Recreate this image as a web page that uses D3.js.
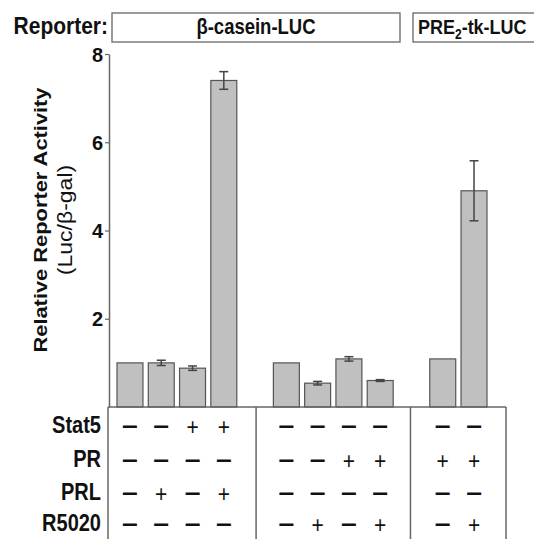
<!DOCTYPE html>
<html>
<head>
<meta charset="utf-8">
<script src="https://cdn.jsdelivr.net/npm/d3@7"></script>
<style>
  body { margin: 0; background: #fff; }
  text { font-family: "Liberation Sans", Arial, sans-serif; fill: #111; }
</style>
</head>
<body>
<div id="chart"></div>
<script>
// conditions (one per bar), grouped by reporter/experiment block
const groups = [0, 0, 0, 0, 1, 1, 1, 1, 2, 2];
const values = [1.0, 1.0, 0.88, 7.4, 1.0, 0.54, 1.09, 0.6, 1.09, 4.9];
const errors = [0, 0.06, 0.05, 0.2, 0, 0.04, 0.05, 0.02, 0, 0.68];
const yTicks = [2, 4, 6, 8];

// treatment table rows
const rowLabels = ["Stat5", "PR", "PRL", "R5020"];
const stat5 = ["-", "-", "+", "+", "-", "-", "-", "-", "-", "-"];
const pr    = ["-", "-", "-", "-", "-", "-", "+", "+", "+", "+"];
const prl   = ["-", "+", "-", "+", "-", "-", "-", "-", "-", "-"];
const r5020 = ["-", "-", "-", "-", "-", "+", "-", "+", "-", "+"];
const rows = [stat5, pr, prl, r5020];

const reporters = ["β-casein-LUC", "PRE2-tk-LUC"];

const W = 534, H = 539;
const lineCol = "#666";
const stretch = 1.15; // the source figure is a bit taller than wide

const svg = d3.select("#chart").append("svg")
    .attr("width", W)
    .attr("height", H);

// place a text element at (x,y) with the vertical stretch of the source
function label(x, y, rot, sx) {
    return svg.append("text")
        .attr("transform", "translate(" + x + "," + y + ") scale(" + (sx || 1) + "," + stretch + ")" + (rot ? " rotate(" + rot + ")" : ""));
}

// slot index = bar index + number of group gaps before it
const slots = values.map((v, i) => i + groups[i]);

const x = d3.scaleBand()
    .domain(d3.range(12))
    .range([117, 487])
    .paddingInner(0.17)
    .paddingOuter(0);

const y = d3.scaleLinear()
    .domain([0, 8])
    .range([407, 54]);

// y axis
const yAxis = svg.append("g")
    .attr("transform", "translate(109,0)")
    .call(d3.axisLeft(y).tickValues(yTicks).tickSize(4).tickSizeOuter(0).tickFormat(d3.format("d")));
yAxis.select(".domain").attr("stroke", lineCol).attr("stroke-width", 1.5);
yAxis.selectAll(".tick line").attr("stroke", lineCol).attr("stroke-width", 1.2);
yAxis.selectAll(".tick text")
    .attr("x", -6)
    .attr("dy", "0.36em")
    .style("font-size", "20px")
    .style("font-weight", "bold")
    .style("font-family", "'Liberation Sans', Arial, sans-serif")
    .attr("fill", "#111");

// y title
label(47, 220, -90)
    .attr("text-anchor", "middle")
    .style("font-size", "19px")
    .style("font-weight", "bold")
    .text("Relative Reporter Activity");
label(72, 220, -90)
    .attr("text-anchor", "middle")
    .style("font-size", "20px")
    .text("(Luc/β-gal)");

// bars
svg.selectAll("rect.bar")
    .data(values)
    .enter()
    .append("rect")
    .attr("class", "bar")
    .attr("x", (d, i) => x(slots[i]))
    .attr("width", x.bandwidth())
    .attr("y", d => y(d))
    .attr("height", d => y(0) - y(d))
    .attr("fill", "#c0c0c0")
    .attr("stroke", "#555")
    .attr("stroke-width", 1.2);

// error bars
const eb = svg.selectAll("g.err")
    .data(values.map((v, i) => ({v: v, e: errors[i], s: slots[i]})).filter(d => d.e > 0))
    .enter()
    .append("g")
    .attr("class", "err")
    .attr("stroke", "#444")
    .attr("stroke-width", 1.5);
eb.append("line")
    .attr("x1", d => x(d.s) + x.bandwidth() / 2)
    .attr("x2", d => x(d.s) + x.bandwidth() / 2)
    .attr("y1", d => y(d.v + d.e))
    .attr("y2", d => y(d.v - d.e));
eb.selectAll("line.cap")
    .data(d => [d.v + d.e, d.v - d.e].map(t => ({t: t, s: d.s})))
    .enter()
    .append("line")
    .attr("class", "cap")
    .attr("x1", d => x(d.s) + x.bandwidth() / 2 - 4.5)
    .attr("x2", d => x(d.s) + x.bandwidth() / 2 + 4.5)
    .attr("y1", d => y(d.t))
    .attr("y2", d => y(d.t));

// treatment table frame
const tableTop = y(0);
const dividers = [108, x(4) + x.bandwidth() / 2 + 1, x(9) + x.bandwidth() / 2 - 1, 506];
svg.append("line")
    .attr("x1", 108).attr("x2", 506)
    .attr("y1", tableTop).attr("y2", tableTop)
    .attr("stroke", lineCol).attr("stroke-width", 1.5);
svg.selectAll("line.div")
    .data(dividers)
    .enter()
    .append("line")
    .attr("class", "div")
    .attr("x1", d => d).attr("x2", d => d)
    .attr("y1", tableTop).attr("y2", H)
    .attr("stroke", lineCol).attr("stroke-width", 1.5);

// row labels and signs
const rowY = [425, 459, 492, 523];
rowLabels.forEach((d, i) => {
    label(101, rowY[i])
        .attr("dy", "0.36em")
        .attr("text-anchor", "end")
        .style("font-size", "20px")
        .style("font-weight", "bold")
        .text(d);
});

rows.forEach((row, r) => {
    row.forEach((d, i) => {
        const cx = x(slots[i]) + x.bandwidth() / 2;
        if (d === "+") {
            label(cx, rowY[r] + 1.5)
                .attr("dy", "0.36em")
                .attr("text-anchor", "middle")
                .style("font-size", "21px")
                .text("+");
        } else {
            label(cx, rowY[r] - 1, 0, 1.35)
                .attr("dy", "0.36em")
                .attr("text-anchor", "middle")
                .style("font-size", "21px")
                .style("font-weight", "bold")
                .text("\u2013");
        }
    });
});

// reporter header
label(108, 34)
    .attr("text-anchor", "end")
    .style("font-size", "21px")
    .style("font-weight", "bold")
    .text("Reporter:");

const boxes = [
    {x0: 112, x1: 400},
    {x0: 413, x1: 540}
];
svg.selectAll("rect.rep")
    .data(boxes)
    .enter()
    .append("rect")
    .attr("class", "rep")
    .attr("x", d => d.x0)
    .attr("y", 13)
    .attr("width", d => d.x1 - d.x0)
    .attr("height", 29)
    .attr("fill", "none")
    .attr("stroke", lineCol)
    .attr("stroke-width", 1.3);

label((boxes[0].x0 + boxes[0].x1) / 2, 34)
    .attr("text-anchor", "middle")
    .style("font-size", "18.5px")
    .style("font-weight", "bold")
    .text(reporters[0]);

const pre = label(418, 34)
    .style("font-size", "18px")
    .style("font-weight", "bold");
pre.append("tspan").text(reporters[1].slice(0, 3));
pre.append("tspan").attr("dy", 4).style("font-size", "12px").text(reporters[1].slice(3, 4));
pre.append("tspan").attr("dy", -4).text(reporters[1].slice(4));
</script>
</body>
</html>
